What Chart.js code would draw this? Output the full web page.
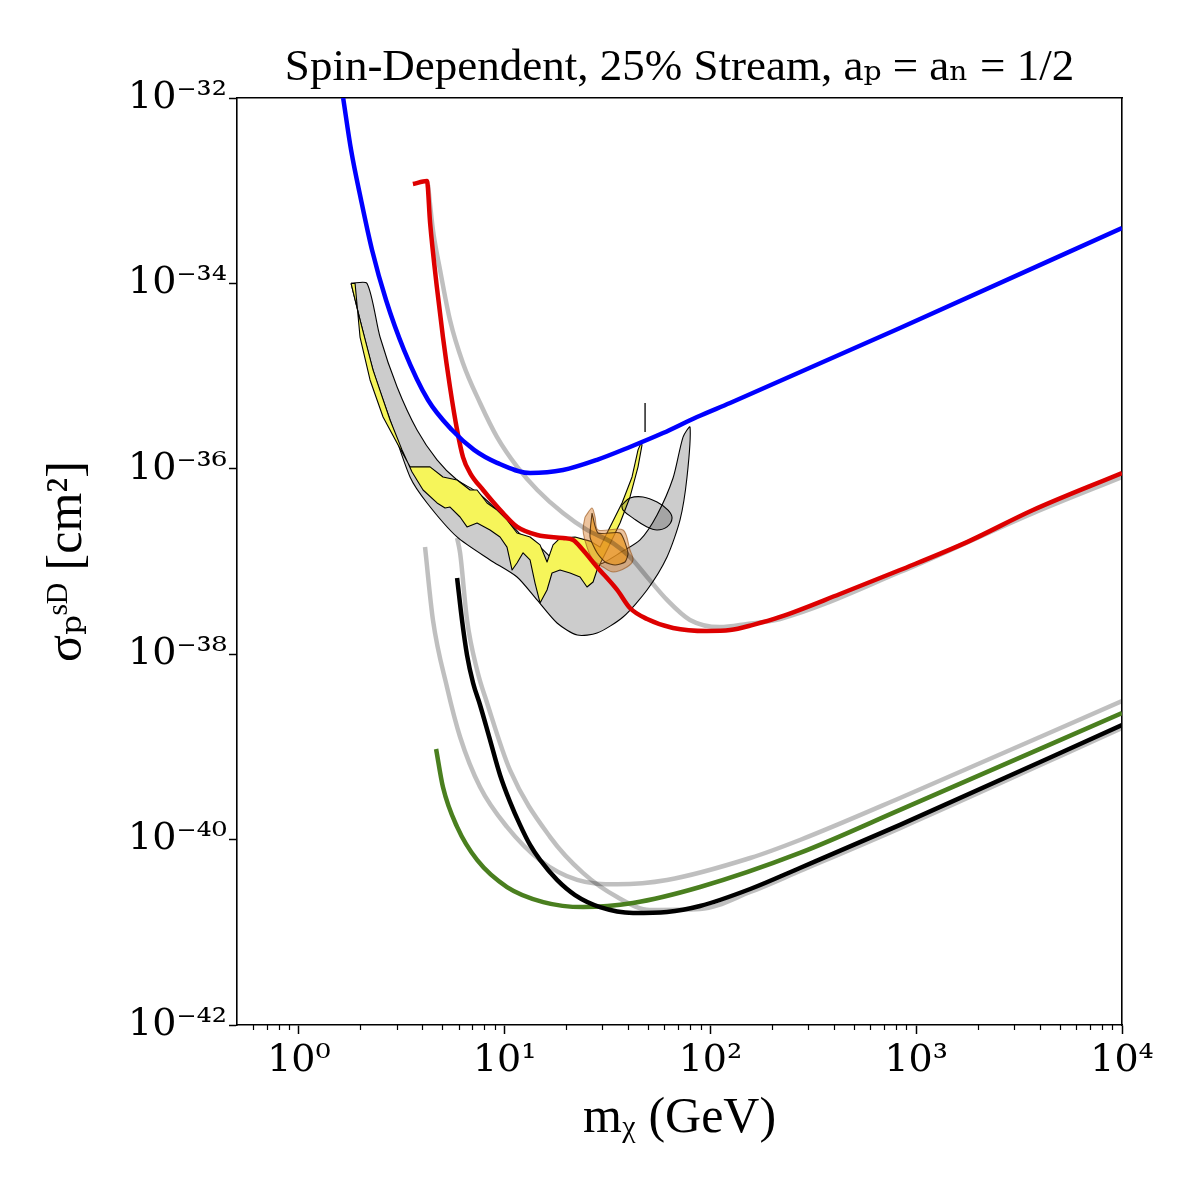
<!DOCTYPE html>
<html><head><meta charset="utf-8">
<script src="https://cdn.jsdelivr.net/npm/chart.js@4.4.1/dist/chart.umd.min.js"></script>
<style>html,body{margin:0;padding:0;background:#fff;}</style>
</head><body>
<canvas id="c" width="1200" height="1200" style="width:1200px;height:1200px;display:block"></canvas>
<script>
// ---------- tick data ----------
const xTickValues = [1, 10, 100, 1000, 10000];
const xTickLabels = ['10⁰', '10¹', '10²', '10³', '10⁴'];
const xMinorValues = [0.6, 0.7, 0.8, 0.9, 2, 3, 4, 5, 6, 7, 8, 9, 20, 30, 40, 50, 60, 70, 80, 90,
  200, 300, 400, 500, 600, 700, 800, 900, 2000, 3000, 4000, 5000, 6000, 7000, 8000, 9000];
const yTickValues = [1e-42, 1e-40, 1e-38, 1e-36, 1e-34, 1e-32];
const yTickLabels = ['10⁻⁴²', '10⁻⁴⁰', '10⁻³⁸', '10⁻³⁶', '10⁻³⁴', '10⁻³²'];
const titleText = 'Spin-Dependent, 25% Stream, aₚ = aₙ = 1/2';
const xTitle = 'mᵪ (GeV)';
const yTitle = 'σₚˢᴰ [cm²]';

// ---------- curves (mass in GeV, cross-section in cm^2) ----------
const blueMass = [1.64, 1.792, 2.004, 2.266, 2.650, 3.242, 4.24, 5.546, 7.096, 9.18, 13.3, 19.2, 28.1, 40.6, 58.8, 86.0, 124.5, 834, 10000];
const blueSigma = [1.0e-32, 2.75e-33, 7.94e-34, 2.29e-34, 6.62e-35, 1.91e-35, 5.52e-36, 2.62e-36, 1.60e-36, 1.16e-36, 9.0e-37, 9.7e-37, 1.25e-36, 1.72e-36, 2.43e-36, 3.62e-36, 5.13e-36, 3.30e-35, 3.96e-34];

const redMass = [3.58, 4.19, 4.34, 4.68, 5.01, 5.42, 5.87, 6.27, 6.79, 7.85, 9.81, 11.5, 14.4, 19.2, 21.5, 24.0, 28.1, 35.2, 40.6, 49.2, 65.8, 96.2, 124.5, 161, 218, 426, 834, 1765, 3694, 10000];
const redSigma = [1.18e-33, 1.27e-33, 4.48e-34, 9.15e-35, 2.64e-35, 7.63e-36, 2.62e-36, 1.34e-36, 9.0e-37, 5.91e-37, 3.33e-37, 2.36e-37, 1.93e-37, 1.79e-37, 1.71e-37, 1.33e-37, 8.73e-38, 4.93e-38, 3.15e-38, 2.40e-38, 1.92e-38, 1.78e-38, 1.82e-38, 2.07e-38, 2.52e-38, 4.46e-38, 8.09e-38, 1.62e-37, 3.59e-37, 9.0e-37];

const grayUpperMass = [4.24, 4.48, 4.85, 5.42, 6.27, 7.59, 9.18, 11.5, 14.4, 19.2, 25.1, 33.6, 40.6, 49.2, 61.5, 79.5, 111, 151, 218, 834, 3694, 10000];
const grayUpperSigma = [1.15e-33, 3.77e-34, 1.40e-34, 4.03e-35, 1.38e-35, 5.13e-36, 2.20e-36, 1.05e-36, 5.91e-37, 3.33e-37, 2.19e-37, 1.58e-37, 1.12e-37, 6.81e-38, 3.85e-38, 2.34e-38, 1.96e-38, 2.12e-38, 2.40e-38, 7.70e-38, 3.33e-37, 8.16e-37];

const grayAMass = [4.10, 4.48, 5.24, 6.07, 7.59, 10.26, 14.8, 22.5, 35.2, 61.5, 156, 272, 834, 10000];
const grayASigma = [1.43e-37, 2.34e-38, 4.43e-39, 1.28e-39, 3.69e-40, 1.37e-40, 6.03e-41, 3.67e-41, 3.30e-41, 3.67e-41, 6.33e-41, 9.9e-41, 2.81e-40, 3.13e-39];

const grayBMass = [5.87, 6.07, 6.56, 7.34, 8.21, 10.6, 16.6, 24.0, 35.2, 50.8, 89.0, 156, 272, 834, 10000];
const grayBSigma = [1.79e-37, 1.24e-37, 2.34e-38, 6.76e-39, 2.98e-39, 5.64e-40, 1.07e-40, 4.37e-41, 2.40e-41, 1.74e-41, 1.78e-41, 2.72e-41, 4.58e-41, 1.33e-40, 1.60e-39];

const blackMass = [5.87, 6.20, 6.56, 7.02, 7.59, 8.485, 9.491, 10.61, 11.87, 13.28, 14.85, 17.96, 21.97, 29.06, 42.05, 61.5, 89.0, 156, 272, 834, 10000];
const blackSigma = [6.64e-38, 2.34e-38, 9.8e-39, 4.89e-39, 2.83e-39, 1.19e-39, 4.98e-40, 2.55e-40, 1.44e-40, 8.75e-41, 6.03e-41, 3.67e-41, 2.52e-41, 1.87e-41, 1.62e-41, 1.66e-41, 1.92e-41, 2.93e-41, 4.94e-41, 1.44e-40, 1.72e-39];

const greenMass = [4.64, 5.01, 5.87, 7.34, 10.26, 15.4, 24.0, 42.0, 89.0, 272, 834, 10000];
const greenSigma = [9.49e-40, 3.69e-40, 1.37e-40, 6.03e-41, 3.08e-41, 2.12e-41, 1.87e-41, 2.07e-41, 3.08e-41, 7.18e-41, 2.09e-40, 2.32e-39];

const markMass = [48.1, 48.1];
const markSigma = [5.13e-36, 2.49e-36];

// ---------- closed regions ----------
const crescentMass = [1.792, 1.981, 2.292, 2.772, 3.467, 4.194, 5.866, 8.485, 11.48, 14.36, 17.96, 22.52, 28.10, 37.59, 49.16, 61.5, 71.13, 76.92, 79.56,
  73.56, 65.8, 55.0, 45.48, 36.35, 30.06, 25.98, 21.48, 17.96, 14.85, 12.28, 10.61, 9.18, 7.34, 5.87, 4.69, 3.75, 3.00, 2.478, 2.143, 1.792];
const crescentSigma = [1.0e-34, 4.03e-35, 1.16e-35, 3.36e-36, 8.16e-37, 4.28e-37, 1.84e-37, 1.04e-37, 6.81e-38, 3.85e-38, 2.17e-38, 1.61e-38, 1.69e-38, 2.52e-38, 4.93e-38, 1.12e-37, 2.81e-37, 8.16e-37, 2.82e-36,
  2.20e-36, 7.96e-37, 3.18e-37, 1.71e-37, 1.24e-37, 9.63e-38, 8.73e-38, 8.51e-38, 9.63e-38, 1.43e-37, 1.84e-37, 2.60e-37, 3.59e-37, 5.62e-37, 7.57e-37, 1.25e-36, 2.62e-36, 7.63e-36, 2.64e-35, 1.0e-34, 1.0e-34];

const yellowMass = [1.792, 1.981, 2.292, 2.772, 3.170, 3.545, 4.010, 4.690, 5.129, 5.424, 6.066, 6.56, 7.34, 8.485, 9.491, 10.26, 10.86, 11.48, 12.28, 13.28, 14.04, 14.85, 16.06, 16.98, 18.57, 20.77, 23.23, 25.12, 26.88, 28.10, 31.43, 36.35, 40.65, 44.46, 46.49, 45.97,
  44.46, 41.57, 37.17, 32.50, 29.06, 25.98, 21.97, 18.57, 17.18, 16.06, 14.85, 13.28, 11.48, 10.26, 9.18, 8.21, 7.34, 6.785, 5.87, 5.013, 4.336, 3.467, 2.997, 2.563, 2.216, 1.981, 1.874, 1.792];
const yellowSigma = [1.0e-34, 4.03e-35, 1.16e-35, 3.36e-36, 1.60e-36, 9.23e-37, 5.91e-37, 4.28e-37, 3.78e-37, 3.87e-37, 3.02e-37, 2.36e-37, 2.60e-37, 2.19e-37, 1.84e-37, 1.43e-37, 8.09e-38, 9.63e-38, 1.24e-37, 1.04e-37, 5.86e-38, 3.57e-38, 4.93e-38, 7.51e-38, 8.09e-38, 7.51e-38, 6.81e-38, 5.31e-38, 6.01e-38, 8.09e-38, 1.33e-37, 2.60e-37, 4.97e-37, 1.05e-36, 1.81e-36, 1.90e-36,
  1.60e-36, 8.16e-37, 4.28e-37, 2.36e-37, 1.43e-37, 1.66e-37, 1.84e-37, 1.79e-37, 1.51e-37, 9.88e-38, 1.51e-37, 1.84e-37, 2.03e-37, 2.81e-37, 3.59e-37, 4.28e-37, 5.91e-37, 5.91e-37, 7.57e-37, 8.16e-37, 1.05e-36, 1.05e-36, 1.90e-36, 3.62e-36, 9.08e-36, 2.64e-35, 1.0e-34, 1.0e-34];

const ellipseMass = [37.04, 40.65, 47.02, 55.0, 62.2, 65.06, 61.5, 55.0, 49.16, 42.05, 37.59, 37.04];
const ellipseSigma = [4.07e-37, 4.84e-37, 4.97e-37, 4.38e-37, 3.59e-37, 2.94e-37, 2.36e-37, 2.19e-37, 2.36e-37, 2.94e-37, 3.59e-37, 4.07e-37];

const orangeOuterMass = [24.57, 26.57, 27.48, 28.42, 37.59, 40.65, 42.05, 39.31, 33.61, 30.06, 26.88, 25.12, 24.03, 24.57];
const orangeOuterSigma = [3.02e-37, 3.78e-37, 3.02e-37, 2.19e-37, 2.19e-37, 1.33e-37, 1.04e-37, 8.73e-38, 7.70e-38, 8.73e-38, 1.04e-37, 1.43e-37, 2.19e-37, 3.02e-37];
const orangeInnerMass = [26.57, 28.42, 36.35, 39.75, 38.44, 34.38, 30.73, 28.10, 25.98, 26.57];
const orangeInnerSigma = [3.33e-37, 2.03e-37, 2.03e-37, 1.24e-37, 9.88e-38, 9.17e-38, 9.88e-38, 1.24e-37, 1.84e-37, 3.33e-37];

// ---------- build ----------
const pts = (xs, ys) => xs.map((x, i) => ({x: x, y: ys[i]}));
const FONT = "'Liberation Serif', 'DejaVu Serif', serif";
const TICKFONT = "'DejaVu Serif', serif";
const LW = 4.5;
function curve(xs, ys, color, order, width) {
  return {data: pts(xs, ys), borderColor: color, borderWidth: width || LW, pointRadius: 0, fill: false,
    cubicInterpolationMode: 'monotone', order: order, borderJoinStyle: 'round'};
}
function region(xs, ys, fillColor, edgeColor, order, tension) {
  return {data: pts(xs, ys), borderColor: edgeColor, borderWidth: 1.1, backgroundColor: fillColor, pointRadius: 0,
    fill: 'shape', tension: tension, order: order, borderJoinStyle: 'round'};
}
const GRAY = 'rgba(0,0,0,0.25)';
const datasets = [
  region(crescentMass, crescentSigma, 'rgba(0,0,0,0.2)', '#000', 20, 0.25),
  region(yellowMass, yellowSigma, '#f6f55a', '#000', 19, 0),
  region(ellipseMass, ellipseSigma, 'rgba(0,0,0,0.2)', '#000', 18, 0.4),
  region(orangeOuterMass, orangeOuterSigma, 'rgba(215,125,40,0.45)', 'rgba(150,80,20,0.6)', 17, 0.3),
  region(orangeInnerMass, orangeInnerSigma, 'rgba(232,150,30,0.7)', 'rgba(60,30,0,0.8)', 16, 0.2),
  curve(markMass, markSigma, '#000', 15, 1.3),
  curve(grayUpperMass, grayUpperSigma, GRAY, 10),
  curve(grayAMass, grayASigma, GRAY, 9),
  curve(grayBMass, grayBSigma, GRAY, 8),
  curve(greenMass, greenSigma, '#4a7f1f', 7),
  curve(blackMass, blackSigma, '#000000', 6),
  curve(redMass, redSigma, '#dd0000', 5),
  curve(blueMass, blueSigma, '#0000ff', 4)
];

const tickFont = {family: TICKFONT, size: 38};
new Chart(document.getElementById('c'), {
  type: 'line',
  data: {datasets: datasets},
  options: {
    responsive: false, animation: false, devicePixelRatio: 1,
    layout: {padding: {left: 0, right: 78, top: 11, bottom: 0}},
    plugins: {
      legend: {display: false}, tooltip: {enabled: false},
      title: {display: true, text: titleText, fullSize: false, color: '#000',
        font: {family: FONT, size: 45, weight: 'normal', lineHeight: 1.2}, padding: {top: 30, bottom: 3}}
    },
    scales: {
      xMinor: {
        type: 'logarithmic', position: 'bottom', weight: -1, min: 0.5, max: 10000,
        afterBuildTicks: s => { s.ticks = xMinorValues.map(v => ({value: v})); },
        ticks: {display: false},
        grid: {drawOnChartArea: false, tickLength: 5, tickWidth: 1.2, tickColor: '#000'},
        border: {display: false},
        afterFit: s => { s.height = 0; }
      },
      x: {
        type: 'logarithmic', position: 'bottom', weight: 0, min: 0.5, max: 10000,
        afterBuildTicks: s => { s.ticks = xTickValues.map(v => ({value: v})); },
        ticks: {font: tickFont, color: '#000', padding: 4, maxRotation: 0, autoSkip: false,
          callback: v => { const i = xTickValues.indexOf(v); return i >= 0 ? xTickLabels[i] : ''; }},
        grid: {drawOnChartArea: false, tickLength: 9, tickWidth: 1.5, tickColor: '#000'},
        border: {color: '#000', width: 1.6},
        title: {display: true, text: xTitle, color: '#000', font: {family: FONT, size: 50, lineHeight: 1.2}, padding: {top: 0, bottom: 51}},
        afterFit: s => { s.height = 175; }
      },
      xTop: {
        type: 'linear', position: 'top', min: 0, max: 1,
        ticks: {display: false}, grid: {display: true, drawOnChartArea: false, drawTicks: false},
        border: {color: '#000', width: 1.6},
        afterFit: s => { s.height = 0; }
      },
      y: {
        type: 'logarithmic', position: 'left', min: 1e-42, max: 1e-32,
        afterBuildTicks: s => { s.ticks = yTickValues.map(v => ({value: v})); },
        ticks: {font: tickFont, color: '#000', padding: 2, autoSkip: false,
          callback: v => { const i = yTickValues.indexOf(v); return i >= 0 ? yTickLabels[i] : ''; }},
        grid: {drawOnChartArea: false, tickLength: 8, tickWidth: 1.5, tickColor: '#000'},
        border: {color: '#000', width: 1.6},
        title: {display: true, text: yTitle, color: '#000', font: {family: FONT, size: 50, lineHeight: 1.2}, padding: {top: 38, bottom: 0}},
        afterFit: s => { s.width = 237; }
      },
      yRight: {
        type: 'linear', position: 'right', min: 0, max: 1,
        ticks: {display: false}, grid: {display: true, drawOnChartArea: false, drawTicks: false},
        border: {color: '#000', width: 1.6},
        afterFit: s => { s.width = 0; }
      }
    }
  }
});
</script>
</body></html>
